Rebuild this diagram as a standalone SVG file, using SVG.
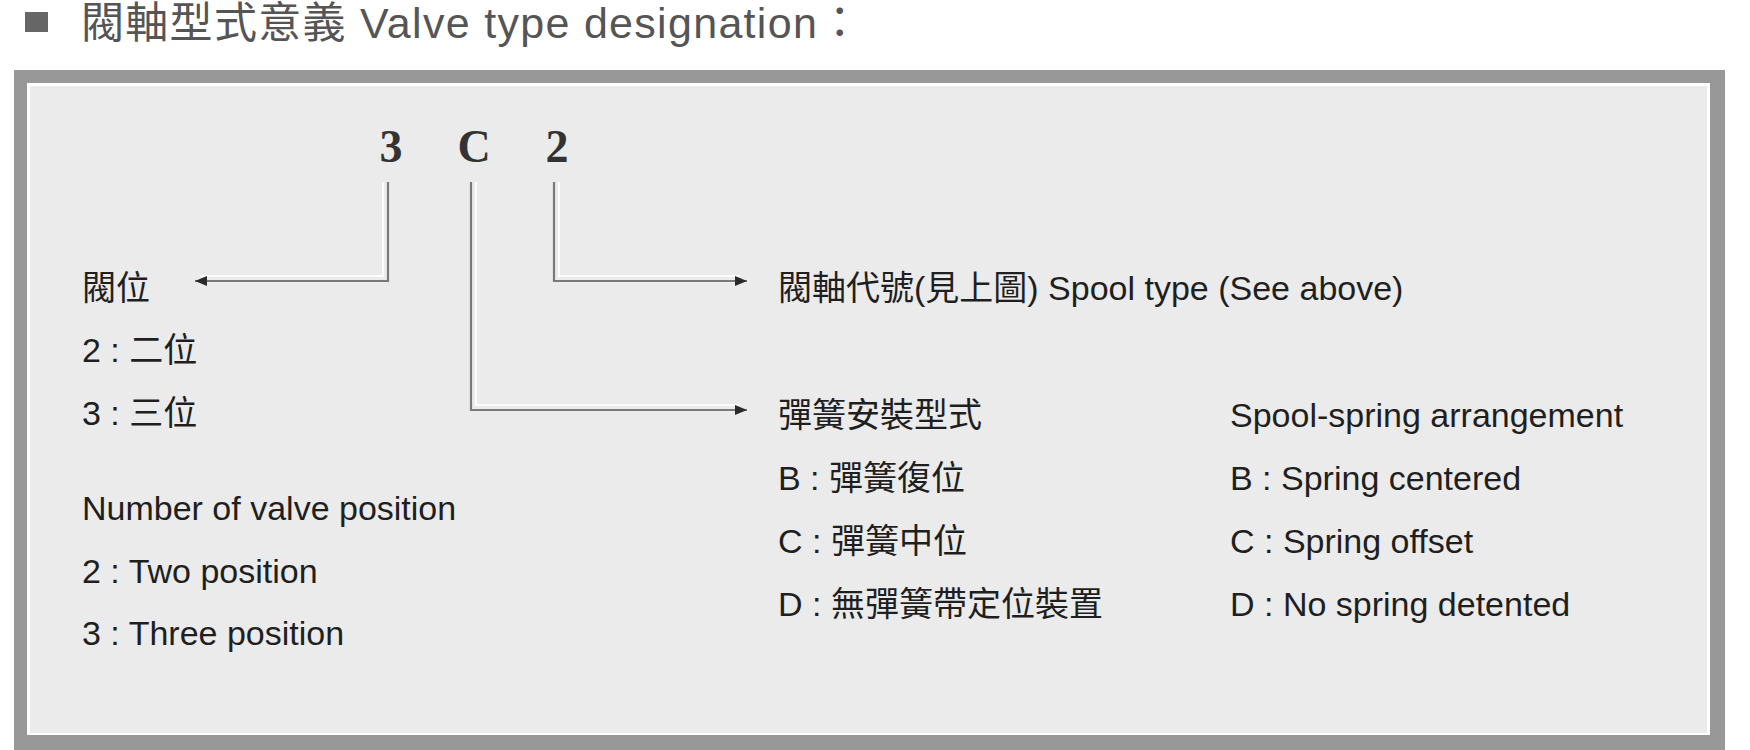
<svg xmlns="http://www.w3.org/2000/svg" width="1750" height="750" viewBox="0 0 1750 750">
  <defs>
    <style>
      .title { font-family: "Liberation Sans", "Noto Sans CJK TC", sans-serif; font-size: 43px; letter-spacing: 1.3px; fill: #555555; }
      .t { font-family: "Liberation Sans", "Noto Sans CJK TC", sans-serif; font-size: 34px; fill: #1f1f1f; }
      .digit { font-family: "Liberation Serif", serif; font-size: 46px; font-weight: bold; fill: #333333; text-anchor: middle; }
      .conn { fill: none; stroke: #7a7a7a; stroke-width: 2.2; }
      .halo { fill: none; stroke: #ffffff; stroke-width: 2; opacity: 0.85; }
    </style>
    <marker id="arrow" viewBox="0 0 12 10" refX="12" refY="5" markerWidth="12" markerHeight="10" markerUnits="userSpaceOnUse" orient="auto">
      <path d="M0,0 L12,5 L0,10 Z" fill="#2a2a2a"/>
    </marker>
  </defs>

  <rect x="0" y="0" width="1750" height="750" fill="#ffffff"/>

  <g id="title">
    <rect x="25" y="12" width="23" height="20" fill="#666666"/>
    <text class="title" x="81" y="38">閥軸型式意義 Valve type designation：</text>
  </g>

  <g id="frame">
    <rect x="14" y="70" width="1711" height="690" fill="#989898"/>
    <rect x="27" y="83" width="1683" height="652" fill="#ffffff"/>
    <rect x="30" y="86" width="1677" height="647" fill="#ebebeb"/>
  </g>

  <g id="code">
    <text class="digit" x="391" y="162">3</text>
    <text class="digit" x="474" y="162">C</text>
    <text class="digit" x="557" y="162">2</text>
  </g>

  <g id="connectors">
    <polyline class="halo" points="383,182 383,276 200,276"/>
    <polyline class="halo" points="559,182 559,276 740,276"/>
    <polyline class="halo" points="476,182 476,405 740,405"/>
    <polyline class="conn" points="388,182 388,281 195,281" marker-end="url(#arrow)"/>
    <polyline class="conn" points="554,182 554,281 747,281" marker-end="url(#arrow)"/>
    <polyline class="conn" points="471,182 471,410 747,410" marker-end="url(#arrow)"/>
  </g>

  <g id="valve-position">
    <text class="t" x="82" y="300">閥位</text>
    <text class="t" x="82" y="362">2 : 二位</text>
    <text class="t" x="82" y="425">3 : 三位</text>
    <text class="t" x="82" y="520">Number of valve position</text>
    <text class="t" x="82" y="583">2 : Two position</text>
    <text class="t" x="82" y="645">3 : Three position</text>
  </g>

  <g id="spool-type">
    <text class="t" x="778" y="300">閥軸代號(見上圖) Spool type (See above)</text>
  </g>

  <g id="spring-arrangement-zh">
    <text class="t" x="778" y="427">彈簧安裝型式</text>
    <text class="t" x="778" y="490">B : 彈簧復位</text>
    <text class="t" x="778" y="553">C : 彈簧中位</text>
    <text class="t" x="778" y="616">D : 無彈簧帶定位裝置</text>
  </g>

  <g id="spring-arrangement-en">
    <text class="t" x="1230" y="427">Spool-spring arrangement</text>
    <text class="t" x="1230" y="490">B : Spring centered</text>
    <text class="t" x="1230" y="553">C : Spring offset</text>
    <text class="t" x="1230" y="616">D : No spring detented</text>
  </g>
</svg>
